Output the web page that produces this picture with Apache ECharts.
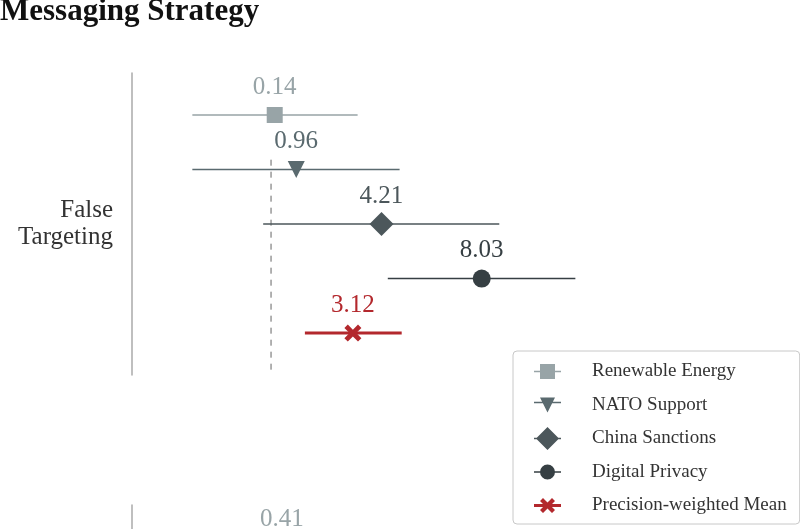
<!DOCTYPE html>
<html>
<head>
<meta charset="utf-8">
<script src="https://cdn.jsdelivr.net/npm/echarts@6/dist/echarts.min.js"></script>
<style>
  html, body { margin: 0; padding: 0; background: #fff; }
  #chart { width: 800px; height: 529px; }
</style>
</head>
<body>
<div id="chart"></div>
<script>
// group labels (second panel's label is below the visible area)
var groups = ['False Targeting', ''];
var seriesNames = ['Renewable Energy', 'NATO Support', 'China Sanctions', 'Digital Privacy', 'Precision-weighted Mean'];
// False Targeting: estimate and interval ends
var estFalse = [0.14, 0.96, 4.21, 8.03, 3.12];
var loFalse = [-3.0, -3.0, -0.3, 4.45, 1.29];
var hiFalse = [3.3, 4.9, 8.7, 11.6, 4.98];
// second panel, only the first value can be seen
var estSecond = [0.41];
// dashed reference at zero, row span
var zeroX = 0;
var zeroRows = [0.82, 4.75];

var colors = ['#98a4a7', '#5a6a6f', '#4c575b', '#363f43', '#b3282d'];
var symbols = ['rect', 'path://M0,0 L10,0 L5,10 Z', 'diamond', 'circle',
  'path://M2,0 L5,3 L8,0 L10,2 L7,5 L10,8 L8,10 L5,7 L2,10 L0,8 L3,5 L0,2 Z'];
var sizes = [16, 17, 24, 18, 17];
var widths = [1.5, 1.5, 1.5, 1.5, 3];
// legend icons: marker and short line in one shape (27 wide box)
var legendIcons = [
  'path://M0,6.75 L6,6.75 L6,0 L21,0 L21,6.75 L27,6.75 L27,8.25 L21,8.25 L21,15 L6,15 L6,8.25 L0,8.25 Z',
  'path://M0,4.25 L27,4.25 L27,5.75 L0,5.75 Z M6,0 L21,0 L13.5,15 Z',
  'path://M0,10.75 L27,10.75 L27,12.25 L0,12.25 Z M13.5,0 L25,11.5 L13.5,23 L2,11.5 Z',
  'path://M0,6.75 L27,6.75 L27,8.25 L0,8.25 Z M6,7.5 A7.5,7.5 0 1,1 21,7.5 A7.5,7.5 0 1,1 6,7.5 Z',
  'path://M0,6 L27,6 L27,9 L0,9 Z M9,0 L13.5,4.5 L18,0 L21,3 L16.5,7.5 L21,12 L18,15 L13.5,10.5 L9,15 L6,12 L10.5,7.5 L6,3 Z'
];
var serif = 'Liberation Serif';

function row(i, est, lo, hi, rowIdx, grid) {
  var pts = [];
  if (lo != null) pts.push({ value: [lo, rowIdx], symbol: 'none' });
  pts.push({
    value: [est, rowIdx],
    label: {
      show: true, position: 'inside', offset: [0, -28],
      formatter: function (p) { return p.value[0].toFixed(2); },
      color: colors[i], fontSize: 25, fontFamily: serif
    }
  });
  if (hi != null) pts.push({ value: [hi, rowIdx], symbol: 'none' });
  return {
    name: seriesNames[i],
    type: 'line',
    xAxisIndex: grid, yAxisIndex: grid * 2,
    data: pts,
    symbol: symbols[i],
    symbolSize: sizes[i],
    showAllSymbol: true,
    color: colors[i],
    itemStyle: { color: colors[i], borderWidth: 0 },
    lineStyle: { color: colors[i], width: widths[i] },
    animation: false,
    z: 3
  };
}

var series = [{
  name: 'zero',
  type: 'line',
  xAxisIndex: 0, yAxisIndex: 0,
  data: [[zeroX, zeroRows[0]], [zeroX, zeroRows[1]]],
  symbol: 'none',
  lineStyle: { color: '#999', width: 1.5, type: [6, 6] },
  silent: true, animation: false, z: 1
}];
for (var i = 0; i < seriesNames.length; i++) {
  series.push(row(i, estFalse[i], loFalse[i], hiFalse[i], i, 0));
}
// second panel
for (var j = 0; j < estSecond.length; j++) {
  series.push(row(j, estSecond[j], null, null, j, 1));
}

function yAxes(g) {
  return [{
    gridIndex: g, type: 'value', inverse: true, min: -0.77, max: 4.77, show: false
  }, {
    gridIndex: g, type: 'category', data: [groups[g]], position: 'left',
    axisLine: { show: true, lineStyle: { color: '#aaa', width: 1.5 } },
    axisTick: { show: false },
    axisLabel: { color: '#333', fontSize: 25, fontFamily: serif, margin: 19, lineHeight: 27,
      formatter: function (v) { return v.replace(' ', '\n'); } }
  }];
}

var legendData = seriesNames.map(function (n, k) {
  return { name: n, icon: legendIcons[k], itemStyle: { color: colors[k], borderWidth: 0 } };
});

var option = {
  backgroundColor: '#fff',
  animation: false,
  title: {
    text: 'Messaging Strategy',
    left: 0, top: -4, padding: 0,
    textStyle: { fontFamily: serif, fontWeight: 'bold', fontSize: 31, color: '#111' }
  },
  grid: [
    { left: 132, right: 20, top: 73, height: 302, outerBoundsMode: 'none' },
    { left: 132, right: 20, top: 505, height: 302, outerBoundsMode: 'none' }
  ],
  xAxis: [
    { gridIndex: 0, type: 'value', min: -5.3, max: 19.4, show: false },
    { gridIndex: 1, type: 'value', min: -5.3, max: 19.4, show: false }
  ],
  yAxis: yAxes(0).concat(yAxes(1)),
  legend: {
    data: legendData,
    orient: 'vertical',
    left: 513, top: 351,
    itemWidth: 27, itemHeight: 23, itemGap: 10.5,
    padding: [9, 13, 7, 21],
    borderColor: '#c8c8c8', borderWidth: 1, borderRadius: 4,
    backgroundColor: '#fff',
    itemStyle: { borderWidth: 0 },
    textStyle: { fontFamily: serif, fontSize: 19, color: '#333', lineHeight: 23, padding: [0, 0, 0, 26] }
  },
  series: series
};

var myChart = echarts.init(document.getElementById('chart'));
myChart.setOption(option);
</script>
</body>
</html>
